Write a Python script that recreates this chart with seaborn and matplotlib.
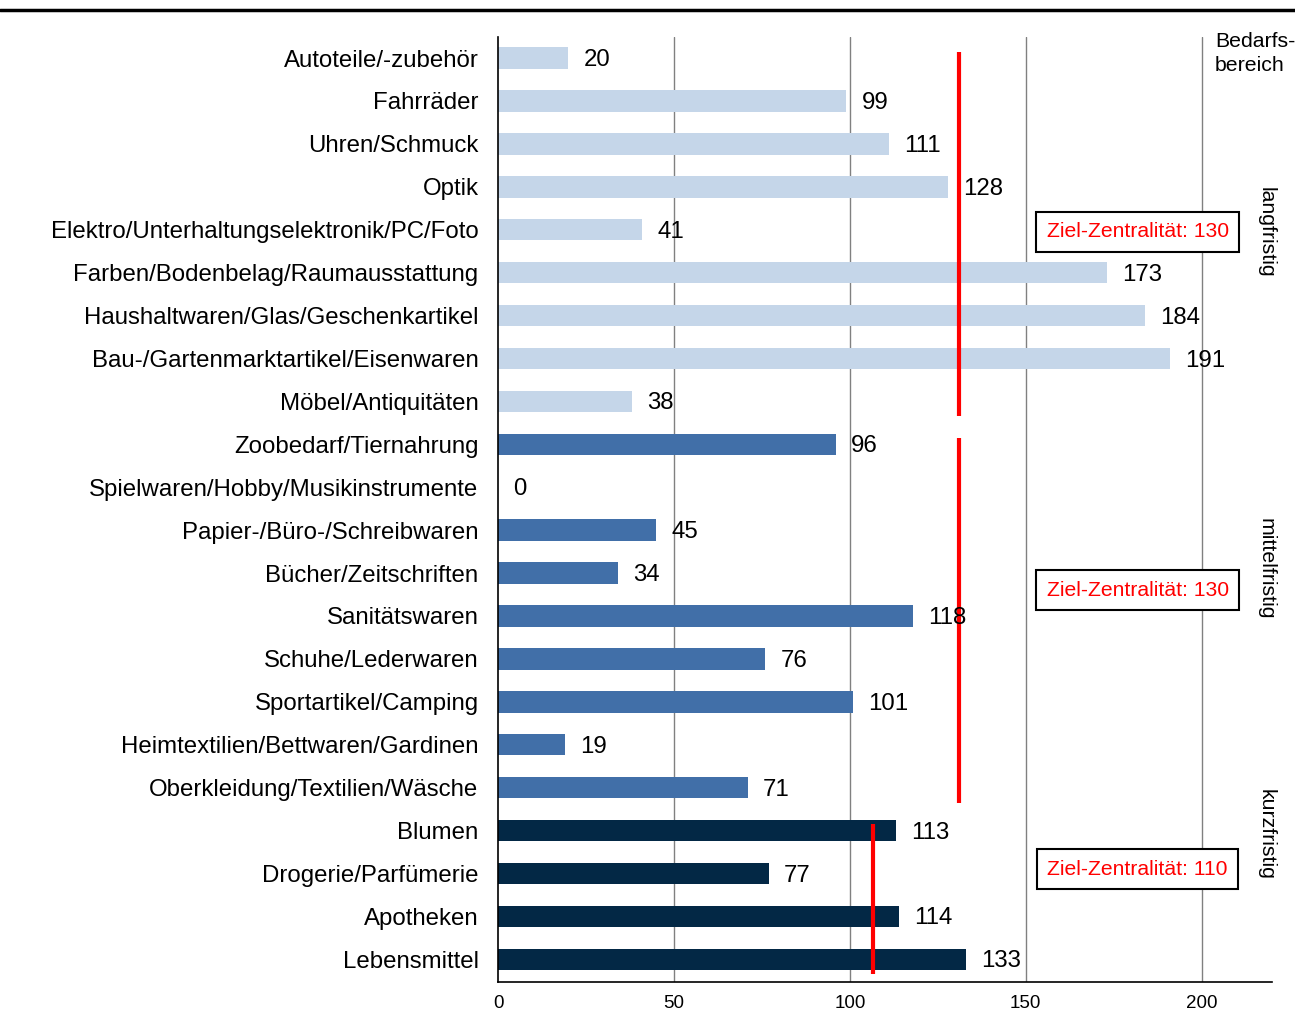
import numpy as np
import pandas as pd
import matplotlib
matplotlib.use("Agg")
import matplotlib.pyplot as plt
from matplotlib.lines import Line2D
import seaborn as sns

# Daten (von oben nach unten)
lang_kat = ["Autoteile/-zubehör", "Fahrräder", "Uhren/Schmuck", "Optik",
            "Elektro/Unterhaltungselektronik/PC/Foto",
            "Farben/Bodenbelag/Raumausstattung",
            "Haushaltwaren/Glas/Geschenkartikel",
            "Bau-/Gartenmarktartikel/Eisenwaren", "Möbel/Antiquitäten"]
lang_werte = [20, 99, 111, 128, 41, 173, 184, 191, 38]

mittel_kat = ["Zoobedarf/Tiernahrung", "Spielwaren/Hobby/Musikinstrumente",
              "Papier-/Büro-/Schreibwaren", "Bücher/Zeitschriften",
              "Sanitätswaren", "Schuhe/Lederwaren", "Sportartikel/Camping",
              "Heimtextilien/Bettwaren/Gardinen", "Oberkleidung/Textilien/Wäsche"]
mittel_werte = [96, 0, 45, 34, 118, 76, 101, 19, 71]

kurz_kat = ["Blumen", "Drogerie/Parfümerie", "Apotheken", "Lebensmittel"]
kurz_werte = [113, 77, 114, 133]

gruppen = ["langfristig", "mittelfristig", "kurzfristig"]
ziel_text = [130, 130, 110]
ziel_linie = [131, 131, 106.5]   # Lage der roten Linien wie im Bild
farben = ["#C5D6E9", "#416FA8", "#032845"]
x_ticks = [0, 50, 100, 150, 200]

df = pd.DataFrame({
    "kategorie": lang_kat + mittel_kat + kurz_kat,
    "wert": lang_werte + mittel_werte + kurz_werte,
    "gruppe": [gruppen[0]] * len(lang_kat) + [gruppen[1]] * len(mittel_kat)
              + [gruppen[2]] * len(kurz_kat),
})

sns.set_style("white")
plt.rcParams["font.family"] = ["Liberation Sans", "DejaVu Sans"]
plt.rcParams["text.color"] = "black"
plt.rcParams["xtick.color"] = "black"
plt.rcParams["ytick.color"] = "black"
plt.rcParams["xtick.labelcolor"] = "black"
plt.rcParams["ytick.labelcolor"] = "black"

fig = plt.figure(figsize=(12.95, 10.17), dpi=100)
ax = fig.add_axes([0.3846, 0.0344, 0.9822 - 0.3846, 0.9636 - 0.0344])

sns.barplot(data=df, y="kategorie", x="wert", hue="gruppe", orient="h",
            dodge=False, palette=farben, hue_order=gruppen, width=0.5,
            legend=False, ax=ax, saturation=1, zorder=3, linewidth=0)

ax.set_xlim(0, 220)
ax.set_ylim(len(df) - 0.47, -0.49)
ax.set_xticks(x_ticks)
ax.set_xticklabels([str(t) for t in x_ticks], fontsize=13.5)
ax.set_xlabel("")
ax.set_ylabel("")
ax.tick_params(axis="y", labelsize=17.3, length=0, pad=14)
ax.tick_params(axis="x", length=5, color="#808080", pad=4)
ax.set_yticks(np.arange(len(df)) + 0.5, minor=True)
ax.tick_params(axis="y", which="minor", length=5, color="#808080", width=1)
for t in x_ticks[1:]:
    ax.axvline(t, color="#808080", lw=1, zorder=0)
for s in ["top", "right"]:
    ax.spines[s].set_visible(False)
for s in ["left", "bottom"]:
    ax.spines[s].set_color("black")
    ax.spines[s].set_linewidth(1.2)
    ax.spines[s].set_zorder(5)

# Werte an den Balken
for i, v in enumerate(df["wert"]):
    ax.annotate(str(v), xy=(v, i), xytext=(11, -1.5), textcoords="offset points",
                va="center", ha="left", fontsize=17.3, zorder=5)

# Ziel-Zentralität je Bedarfsbereich
start = 0
box_y = [4.05, 12.4, 18.9]
lab_y = [4.05, 11.9, 18.1]
for g, n in enumerate([len(lang_kat), len(mittel_kat), len(kurz_kat)]):
    ende = start + n - 1
    ax.plot([ziel_linie[g], ziel_linie[g]], [start - 0.15, ende + 0.35],
            color="#FF0000", lw=3, solid_capstyle="butt", zorder=4)
    ax.text(181.8, box_y[g], f"Ziel-Zentralität: {ziel_text[g]}", color="#FF0000",
            fontsize=15.2, ha="center", va="center", zorder=6,
            bbox=dict(boxstyle="square,pad=0.5", fc="white", ec="black", lw=1.5))
    ax.text(218.3, lab_y[g], gruppen[g], rotation=270, fontsize=15.3,
            ha="center", va="center", clip_on=False)
    start += n

ax.text(203.8, -0.6, "Bedarfs-\nbereich", fontsize=15.3, ha="left", va="top",
        linespacing=1.3, clip_on=False)

fig.add_artist(Line2D([0, 1], [1 - 10 / 1017, 1 - 10 / 1017],
                      color="black", lw=2.5, transform=fig.transFigure))

fig.savefig("out.png", dpi=100)
